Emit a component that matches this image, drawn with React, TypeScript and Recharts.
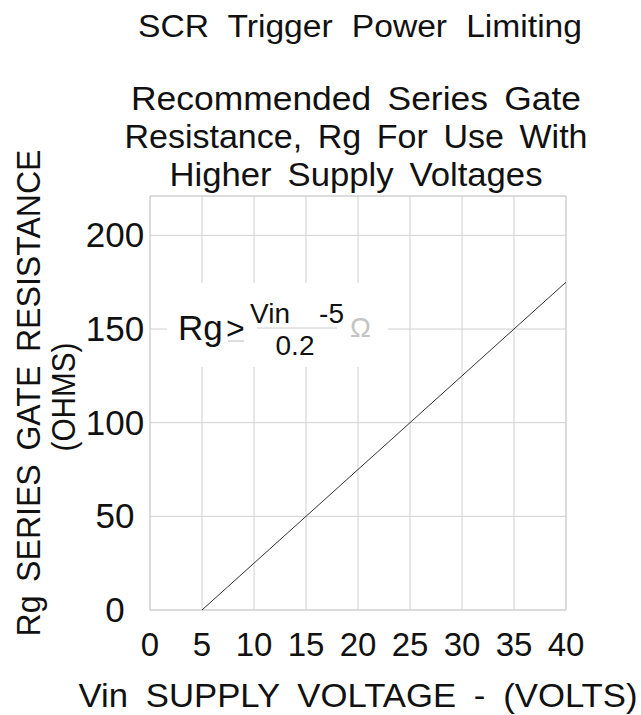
import { LineChart, Line, XAxis, YAxis, CartesianGrid, ReferenceArea } from 'recharts';

const vinPoints = [5, 40];
const rgPoints = [0, 175];
const xTicks = [0, 5, 10, 15, 20, 25, 30, 35, 40];
const yTicks = [0, 50, 100, 150, 200];
const titleLines = ['Recommended Series Gate', 'Resistance, Rg For Use With', 'Higher Supply Voltages'];
const titleWidths = [450, 463, 373];

const data = vinPoints.map((v, i) => ({ vin: v, rg: rgPoints[i] }));

const FONT = '"Liberation Sans", Arial, Helvetica, sans-serif';

function XTick({ x, payload }: { x: number, y: number, payload: any }) {
    return (
        <text x={x} y={656} textAnchor="middle" fontSize={33} fontFamily={FONT} fill="#111">
            {payload.value}
        </text>
    );
}

function YTick({ y, payload }: { x: number, y: number, payload: any }) {
    return (
        <text x={115} y={y + 12} textAnchor="middle" fontSize={35} fontFamily={FONT} fill="#111">
            {payload.value}
        </text>
    );
}

export default function App() {
    return (
        <div style={{ position: 'absolute', left: 0, top: 0, width: 641, height: 715, background: '#fff' }}>
            <LineChart
                width={641}
                height={715}
                data={data}
                margin={{ top: 196, right: 75, left: 0, bottom: 0 }}
            >
                <CartesianGrid stroke="#d0d0d0" strokeWidth={1} />
                <XAxis
                    dataKey="vin"
                    type="number"
                    domain={[0, 40]}
                    ticks={xTicks}
                    axisLine={false}
                    tickLine={false}
                    tick={XTick}
                    height={105}
                />
                <YAxis
                    type="number"
                    domain={[0, 221]}
                    ticks={yTicks}
                    axisLine={false}
                    tickLine={false}
                    tick={YTick}
                    width={150}
                />
                <ReferenceArea x1={0} x2={40} y1={0} y2={221} fill="none" stroke="#d0d0d0" ifOverflow="visible" />
                <Line dataKey="rg" stroke="#333" strokeWidth={1} dot={false} isAnimationActive={false} />
            </LineChart>
            <svg width={641} height={715} style={{ position: 'absolute', left: 0, top: 0, pointerEvents: 'none' }}>
                <g fontFamily={FONT} fill="#111">
                    <text x={360} y={37} textAnchor="middle" fontSize={31} wordSpacing={9} textLength={444} lengthAdjust="spacingAndGlyphs">SCR Trigger Power Limiting</text>
                    {titleLines.map((t, i) => (
                        <text key={i} x={356} y={110 + i * 38} textAnchor="middle" fontSize={33} wordSpacing={6} textLength={titleWidths[i]} lengthAdjust="spacingAndGlyphs">{t}</text>
                    ))}
                    <text x={358} y={707} textAnchor="middle" fontSize={34} wordSpacing={8} textLength={559} lengthAdjust="spacingAndGlyphs">Vin SUPPLY VOLTAGE - (VOLTS)</text>
                    <text transform="translate(40,393) rotate(-90)" textAnchor="middle" fontSize={34} wordSpacing={5} textLength={487} lengthAdjust="spacingAndGlyphs">Rg SERIES GATE RESISTANCE</text>
                    <text transform="translate(75,397) rotate(-90)" textAnchor="middle" fontSize={33} textLength={109} lengthAdjust="spacingAndGlyphs">(OHMS)</text>

                    <rect x={167} y={283} width={221} height={84} fill="#fff" />
                    <text x={178} y={340} fontSize={35}>Rg</text>
                    <text x={226} y={339} fontSize={32}>&gt;</text>
                    <line x1={228} x2={244} y1={341} y2={341} stroke="#bbb" strokeWidth={1} />
                    <text x={250} y={323} fontSize={28}>Vin</text>
                    <text x={344} y={323} fontSize={28} textAnchor="end">-5</text>
                    <line x1={257} x2={337} y1={328} y2={328} stroke="#ccc" strokeWidth={1} />
                    <text x={295} y={355} fontSize={28} textAnchor="middle">0.2</text>
                    <text x={350} y={337} fontSize={28} fill="#c4c4c4">Ω</text>
                </g>
            </svg>
        </div>
    );
}
